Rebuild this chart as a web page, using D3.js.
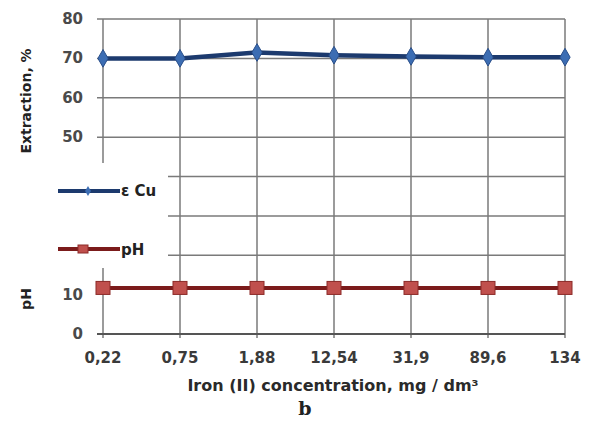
<!doctype html>
<html>
<head>
<meta charset="utf-8">
<script src="https://d3js.org/d3.v7.min.js"></script>
<style>
body { margin: 0; background: #fff; }
text { font-family: "DejaVu Sans", Verdana, sans-serif; font-weight: bold; }
</style>
</head>
<body>
<svg width="590" height="423" id="chart"></svg>
<script>
// data
var categories = ["0,22", "0,75", "1,88", "12,54", "31,9", "89,6", "134"];
var extractionCu = [70.0, 70.0, 71.5, 70.8, 70.5, 70.3, 70.3];
var phValues = [11.7, 11.7, 11.7, 11.7, 11.7, 11.7, 11.7];
var upperTicks = [50, 60, 70, 80];
var lowerTicks = [0, 10];
var upperGrid = [50, 60, 70, 80];
var lowerGrid = [20, 30, 40];

var svg = d3.select("#chart");

var x = d3.scalePoint().domain(categories).range([103, 565]);
var y = d3.scaleLinear().domain([0, 80]).range([334, 19]);

var gridColor = "#7a7a7a";

// horizontal grid, upper part runs from the axis
svg.append("g").selectAll("line").data(upperGrid).enter().append("line")
  .attr("x1", 97).attr("x2", 565)
  .attr("y1", function(d) { return y(d); }).attr("y2", function(d) { return y(d); })
  .style("stroke", gridColor).style("stroke-width", 1.5);

// lower grid starts right of the legend
svg.append("g").selectAll("line").data(lowerGrid).enter().append("line")
  .attr("x1", 168).attr("x2", 565)
  .attr("y1", function(d) { return y(d); }).attr("y2", function(d) { return y(d); })
  .style("stroke", gridColor).style("stroke-width", 1.5);

// vertical grid
svg.append("g").selectAll("line").data(categories.slice(1)).enter().append("line")
  .attr("x1", function(d) { return x(d); }).attr("x2", function(d) { return x(d); })
  .attr("y1", y(80)).attr("y2", y(0) + 4)
  .style("stroke", gridColor).style("stroke-width", 1.5);

// first vertical line is broken by the legend
svg.append("line").attr("x1", x(categories[0])).attr("x2", x(categories[0]))
  .attr("y1", y(80)).attr("y2", 163)
  .style("stroke", gridColor).style("stroke-width", 1.5);
svg.append("line").attr("x1", x(categories[0])).attr("x2", x(categories[0]))
  .attr("y1", 268).attr("y2", y(0) + 4)
  .style("stroke", gridColor).style("stroke-width", 1.5);

// x axis line
svg.append("line").attr("x1", 97).attr("x2", 565)
  .attr("y1", y(0)).attr("y2", y(0))
  .style("stroke", "#555").style("stroke-width", 1.8);

// y tick labels
svg.append("g").selectAll("text").data(upperTicks.concat(lowerTicks)).enter().append("text")
  .attr("x", 83).attr("y", function(d) { return y(d) + 5; })
  .attr("text-anchor", "end")
  .style("font-size", "15px").style("fill", "#4a4a4a")
  .text(function(d) { return d; });

// x tick labels
svg.append("g").selectAll("text").data(categories).enter().append("text")
  .attr("x", function(d) { return x(d); }).attr("y", 363)
  .attr("text-anchor", "middle")
  .style("font-size", "15px").style("fill", "#3a3a3a")
  .text(function(d) { return d; });

// axis titles
svg.append("text")
  .attr("transform", "translate(31,101)rotate(-90)")
  .attr("text-anchor", "middle")
  .style("font-size", "14px").style("fill", "#222")
  .text("Extraction, %");

svg.append("text")
  .attr("transform", "translate(31,299)rotate(-90)")
  .attr("text-anchor", "middle")
  .style("font-size", "14px").style("fill", "#222")
  .text("pH");

svg.append("text")
  .attr("x", 333).attr("y", 391)
  .attr("text-anchor", "middle")
  .style("font-size", "16px").style("fill", "#2a2a2a")
  .text("Iron (II) concentration, mg / dm³");

svg.append("text")
  .attr("x", 305).attr("y", 415)
  .attr("text-anchor", "middle")
  .style("font-family", "'DejaVu Serif', serif").style("font-weight", "bold")
  .style("font-size", "19px").style("fill", "#222")
  .text("b");

// series lines
var line = d3.line()
  .x(function(d, i) { return x(categories[i]); })
  .y(function(d) { return y(d); });

svg.append("path").datum(phValues)
  .attr("d", line)
  .style("fill", "none").style("stroke", "#7b1b1b").style("stroke-width", 4);

svg.append("g").selectAll("rect").data(phValues).enter().append("rect")
  .attr("x", function(d, i) { return x(categories[i]) - 7; })
  .attr("y", function(d) { return y(d) - 6.5; })
  .attr("width", 14).attr("height", 13)
  .style("fill", "#c0504d").style("stroke", "#8c2a28").style("stroke-width", 1);

svg.append("path").datum(extractionCu)
  .attr("d", line)
  .style("fill", "none").style("stroke", "#1c3a6e").style("stroke-width", 4.5);

var diamond = d3.symbol().type(d3.symbolDiamond).size(90);
svg.append("g").selectAll("path").data(extractionCu).enter().append("path")
  .attr("d", diamond)
  .attr("transform", function(d, i) { return "translate(" + x(categories[i]) + "," + y(d) + ")"; })
  .style("fill", "#3c6db3").style("stroke", "#2a4f8a").style("stroke-width", 1);

// legend
var legend = svg.append("g");
legend.append("line").attr("x1", 58).attr("x2", 120).attr("y1", 191).attr("y2", 191)
  .style("stroke", "#1c3a6e").style("stroke-width", 4);
legend.append("path").attr("d", d3.symbol().type(d3.symbolDiamond).size(30))
  .attr("transform", "translate(88,191)")
  .style("fill", "#3c6db3");
legend.append("text").attr("x", 121).attr("y", 196)
  .style("font-size", "15px").style("fill", "#222").text("ε Cu");

legend.append("line").attr("x1", 58).attr("x2", 120).attr("y1", 249).attr("y2", 249)
  .style("stroke", "#7b1b1b").style("stroke-width", 4);
legend.append("rect").attr("x", 78).attr("y", 245).attr("width", 10).attr("height", 8)
  .style("fill", "#c0504d").style("stroke", "#8c2a28");
legend.append("text").attr("x", 121).attr("y", 255)
  .style("font-size", "15px").style("fill", "#222").text("pH");
</script>
</body>
</html>
